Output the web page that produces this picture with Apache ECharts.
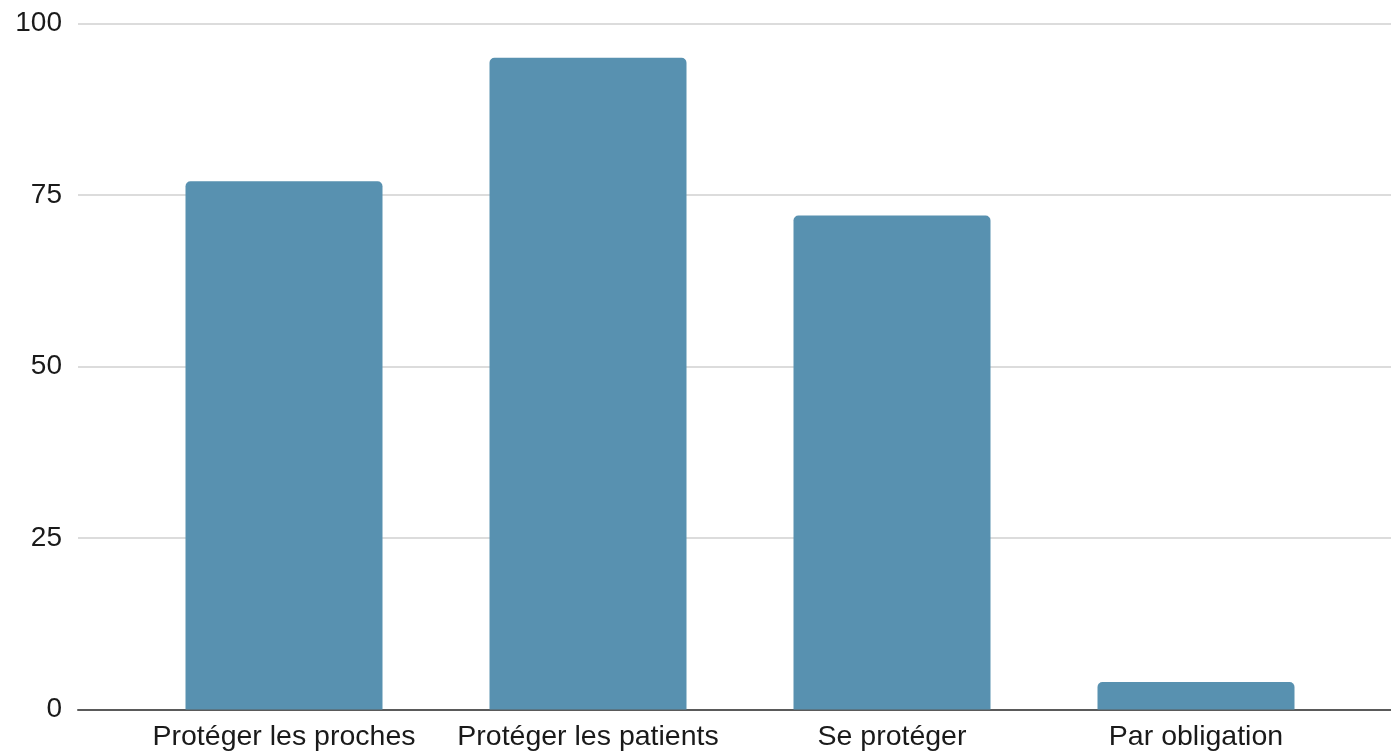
<!DOCTYPE html>
<html><head><meta charset="utf-8">
<script src="https://cdn.jsdelivr.net/npm/echarts@6/dist/echarts.min.js"></script>
<style>html,body{margin:0;padding:0;background:#fff}#c{width:1391px;height:756px}</style>
</head><body><div id="c"></div>
<script>
const categories = ["Protéger les proches", "Protéger les patients", "Se protéger", "Par obligation"];
const values = [77, 95, 72, 4];
const yTicks = [0, 25, 50, 75, 100];

const chart = echarts.init(document.getElementById('c'));
const fontFam = 'Liberation Sans, Arial, Helvetica, sans-serif';
const gTop = 23.5, gBottom = 46.5;
chart.setOption({
  animation: false,
  grid: [
    {left: 78, right: 0, top: gTop, bottom: gBottom},
    {left: 132, right: 43, top: gTop, bottom: gBottom}
  ],
  xAxis: [
    {gridIndex: 0, type: 'category', data: [''], axisLine: {show: true, lineStyle: {color: '#5a5a5a', width: 2}}, axisTick: {show: false}, axisLabel: {show: false}},
    {gridIndex: 1, type: 'category', data: categories, axisLine: {show: false}, axisTick: {show: false},
     axisLabel: {color: '#1a1a1a', fontSize: 28.5, fontFamily: fontFam, margin: 13, interval: 0}}
  ],
  yAxis: [
    {gridIndex: 0, type: 'value', min: yTicks[0], max: yTicks[yTicks.length-1], interval: 25,
     axisLine: {show: false}, axisTick: {show: false},
     axisLabel: {color: '#1a1a1a', fontSize: 28, fontFamily: fontFam, margin: 16},
     splitLine: {lineStyle: {color: '#d0d0d0', width: 1.5}}},
    {gridIndex: 1, type: 'value', min: yTicks[0], max: yTicks[yTicks.length-1], interval: 25, show: false}
  ],
  series: [{
    type: 'bar', xAxisIndex: 1, yAxisIndex: 1, data: values, barWidth: 197,
    itemStyle: {color: '#5891b0', borderRadius: [5, 5, 0, 0]}
  }]
});
</script></body></html>
